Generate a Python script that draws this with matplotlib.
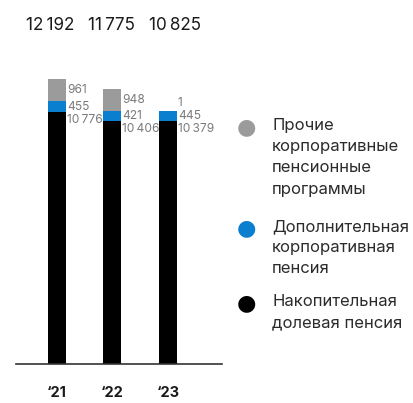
import numpy as np
import matplotlib.pyplot as plt

plt.rcParams['font.family'] = ['Inter', 'DejaVu Sans']

years = ["‘21", "‘22", "‘23"]
funded = np.array([10776, 10406, 10379])      # Накопительная долевая пенсия
extra = np.array([455, 421, 445])             # Дополнительная корпоративная пенсия
other = np.array([961, 948, 1])               # Прочие корпоративные пенсионные программы
totals = funded + extra + other

c_black = '#000000'
c_blue = '#0a7fd0'
c_gray = '#9b9b9b'
c_label = '#7a7a7a'
c_text = '#2b2b2b'

W, H = 413, 403
fig = plt.figure(figsize=(W / 100, H / 100), dpi=100)

# axes in pixel terms: baseline at y=364, 1 unit = 0.02338 px
px_per_unit = 0.02338
ymax = 14000
ax_h = ymax * px_per_unit
ax = fig.add_axes([16 / W, (H - 364) / H, (222 - 16) / W, ax_h / H])

x = np.arange(len(years))
step = 55.5
ax.set_xlim(-(57 - 16) / step, 2 + (222 - 168) / step)
ax.set_ylim(0, ymax)
bw = 18 / step

ax.bar(x, funded, bw, color=c_black)
ax.bar(x, extra, bw, bottom=funded, color=c_blue)
ax.bar(x, other, bw, bottom=funded + extra, color=c_gray)

u = 1 / px_per_unit  # data units per pixel
lx = x + bw / 2 + 1.0 / step
for i in range(len(x)):
    black_y = funded[i] - 8 * u
    blue_y = funded[i] + extra[i] / 2
    gray_y = max(funded[i] + extra[i] + other[i] / 2, blue_y + 13 * u)
    for val, yy in [(funded[i], black_y), (extra[i], blue_y), (other[i], gray_y)]:
        ax.text(lx[i], yy, f"{val:,}".replace(",", "\u2009"), color=c_label,
                fontsize=8.6, va='center', ha='left')

for s in ['top', 'right', 'left']:
    ax.spines[s].set_visible(False)
ax.spines['bottom'].set_color('#333333')
ax.spines['bottom'].set_linewidth(1.2)
ax.set_yticks([])
ax.set_xticks(x)
ax.set_xticklabels(years, fontsize=10.5, fontweight='bold', color='#1a1a1a')
ax.tick_params(axis='x', length=0, pad=16)

# totals row above the chart
for xc, t in zip([50, 111, 175], totals):
    fig.text(xc / W, 1 - 25 / H, f"{t:,}".replace(",", "\u2009"), ha='center',
             va='center', fontsize=12.3, color='#1a1a1a')

# legend
legend = [
    (c_gray, "Прочие\nкорпоративные\nпенсионные\nпрограммы", 127),
    (c_blue, "Дополнительная\nкорпоративная\nпенсия", 228),
    (c_black, "Накопительная\nдолевая пенсия", 303),
]
for col, label, yp in legend:
    fig.text(246 / W, 1 - yp / H, "●", color=col, fontsize=16,
             ha='center', va='center', family='DejaVu Sans')
    fig.text(272 / W, 1 - (yp - 9) / H, label, color=c_text, fontsize=12,
             ha='left', va='top', linespacing=1.52)

fig.savefig('out.png', dpi=100)
